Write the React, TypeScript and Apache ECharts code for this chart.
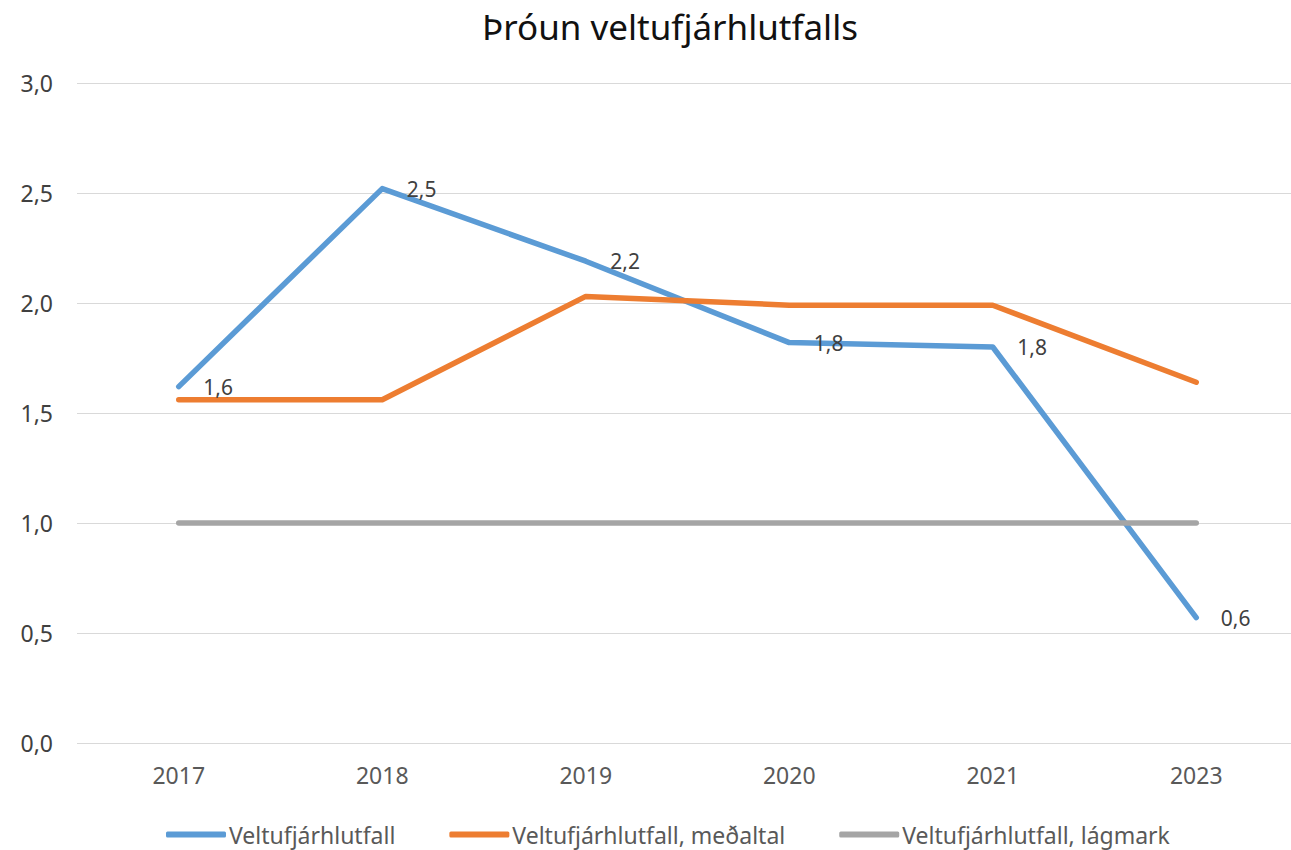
import React, { useEffect, useRef } from "react";
import * as echarts from "echarts";

const categories = ["2017", "2018", "2019", "2020", "2021", "2023"];
const ratio = [1.62, 2.52, 2.19, 1.82, 1.8, 0.57];
const average = [1.56, 1.56, 2.03, 1.99, 1.99, 1.64];
const minimum = [1, 1, 1, 1, 1, 1];
const seriesNames = [
  "Veltufjárhlutfall",
  "Veltufjárhlutfall, meðaltal",
  "Veltufjárhlutfall, lágmark",
];
const colors = ["#5B9BD5", "#ED7D31", "#A5A5A5"];
const FONT = "'Noto Sans', sans-serif";

export default function App() {
  const ref = useRef<HTMLDivElement>(null);
  useEffect(() => {
    if (!ref.current) return;
    const chart = echarts.init(ref.current, null, { renderer: "svg" });
    const fmt = (v: number) => v.toFixed(1).replace(".", ",");
    const mk = (name: string, data: number[], color: string, label: boolean) => ({
      name,
      type: "line",
      data,
      symbol: label ? "circle" : "none",
      symbolSize: 1,
      showSymbol: label,
      smooth: false,
      lineStyle: { color, width: 5.5, cap: "round", join: "round" },
      itemStyle: { color },
      emphasis: { disabled: true },
      label: label
        ? {
            show: true,
            position: "right",
            distance: 24,
            fontFamily: FONT,
            fontSize: 21,
            color: "#404040",
            formatter: (p: any) => fmt(p.value),
          }
        : { show: false },
    });
    chart.setOption({
      animation: false,
      backgroundColor: "#ffffff",
      title: {
        text: "Þróun veltufjárhlutfalls",
        left: 665,
        textAlign: "center",
        top: 4,
        textStyle: { fontFamily: FONT, fontSize: 35, fontWeight: "normal", color: "#111111" },
      },
      grid: { left: 77, right: 0, top: 83, bottom: 107, containLabel: false },
      legend: {
        top: 823,
        left: 166,
        padding: 0,
        icon: "roundRect",
        itemWidth: 60,
        itemHeight: 6,
        itemGap: 54,
        textStyle: { fontFamily: FONT, fontSize: 23, color: "#595959", padding: [0, 0, 0, -2] },
        data: seriesNames,
      },
      xAxis: {
        type: "category",
        data: categories,
        boundaryGap: true,
        axisLine: { show: false },
        axisTick: { show: false },
        axisLabel: { fontFamily: FONT, fontSize: 23, color: "#595959", margin: 20 },
      },
      yAxis: {
        type: "value",
        min: 0,
        max: 3,
        interval: 0.5,
        axisLine: { show: false },
        axisTick: { show: false },
        splitLine: { lineStyle: { color: "#D9D9D9", width: 1 } },
        axisLabel: {
          fontFamily: FONT,
          fontSize: 23,
          color: "#404040",
          margin: 24,
          formatter: (v: number) => fmt(v),
        },
      },
      series: [
        mk(seriesNames[0], ratio, colors[0], true),
        mk(seriesNames[1], average, colors[1], false),
        mk(seriesNames[2], minimum, colors[2], false),
      ],
    });
    return () => chart.dispose();
  }, []);
  return (
    <div style={{ position: "absolute", left: 0, top: 0, width: 1291, height: 850, overflow: "hidden" }}>
      <div ref={ref} style={{ position: "absolute", left: 0, top: 0, width: 1298, height: 850 }} />
    </div>
  );
}
